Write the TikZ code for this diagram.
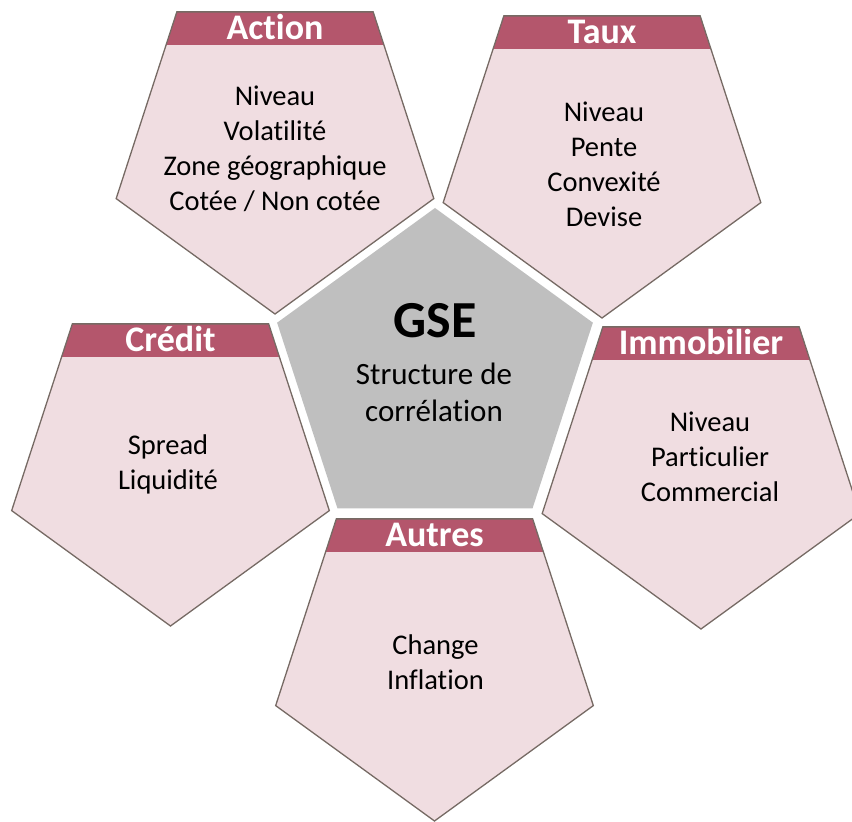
\documentclass[tikz,border=0pt]{standalone}
\usepackage{fontspec}
\setmainfont{Carlito}[Ligatures=CommonOff]
\usetikzlibrary{shapes.geometric}
\definecolor{hdr}{RGB}{180,86,108}
\definecolor{pinkfill}{RGB}{240,221,225}
\definecolor{edgegray}{RGB}{118,106,100}
\definecolor{core}{RGB}{191,191,191}
\begin{document}
\begin{tikzpicture}[x=1pt,y=1pt,
  petal/.style={regular polygon, regular polygon sides=5, shape border rotate=180,
    minimum size=334pt, inner sep=0pt, outer sep=0pt,
    fill=pinkfill, draw=edgegray, line width=1.3pt,
    path picture={\fill[hdr] ([yshift=2pt]path picture bounding box.north west)
      rectangle ([yshift=-33.5pt]path picture bounding box.north east);}},
  hub/.style={regular polygon, regular polygon sides=5, minimum size=332pt,
    inner sep=0pt, outer sep=0pt, fill=core},
  hdrtext/.style={anchor=base, text=white, inner sep=0pt,
    font=\fontsize{36}{40}\selectfont\bfseries},
  bodytext/.style={align=center, inner sep=0pt,
    font=\fontsize{28.5}{35}\selectfont},
  hubtext/.style={align=center, inner sep=0pt,
    font=\fontsize{31}{37}\selectfont},
  hubtitle/.style={anchor=base, inner sep=0pt,
    font=\fontsize{52}{52}\selectfont\bfseries}
]
\useasboundingbox (0,0) rectangle (852,822);

% central pentagon
\node[hub] (pG) at (435,448) {};
\node[hubtitle] (tG) at (435,484) {GSE};
\node[hubtext] (bG) at (434,430) {Structure de\\corrélation};

% surrounding pentagons
\node[petal] (pA) at (275,675) {};
\node[petal] (pT) at (602,671) {};
\node[petal] (pI) at (701,360) {};
\node[petal] (pC) at (170.5,363) {};
\node[petal] (pU) at (434.5,168) {};

% header labels
\node[hdrtext] (tA) at ([yshift=107.6pt]pA.center) {Action};
\node[hdrtext] (tT) at ([yshift=107.6pt]pT.center) {Taux};
\node[hdrtext] (tI) at ([yshift=107.6pt]pI.center) {Immobilier};
\node[hdrtext] (tC) at ([yshift=107.6pt]pC.center) {Crédit};
\node[hdrtext] (tU) at ([yshift=107.6pt]pU.center) {Autres};

% contents
\node[bodytext] (bA) at (275,673.5) {Niveau\\Volatilité\\Zone géographique\\Cotée / Non cotée};
\node[bodytext] (bT) at (604,657.5) {Niveau\\Pente\\Convexité\\Devise};
\node[bodytext] (bI) at (710,365.5) {Niveau\\Particulier\\Commercial};
\node[bodytext] (bC) at (168,358) {Spread\\Liquidité};
\node[bodytext] (bU) at (435.5,159.5) {Change\\Inflation};
\end{tikzpicture}
\end{document}
